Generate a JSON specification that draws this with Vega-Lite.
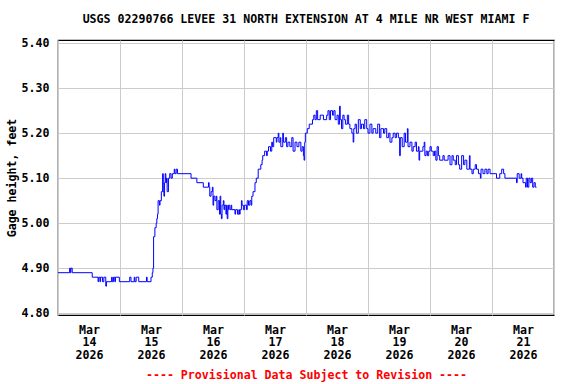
{
"$schema": "https://vega.github.io/schema/vega-lite/v6.json",
"width": 496, "height": 275,
"autosize": "none",
"padding": {"left": 58, "top": 40, "right": 22, "bottom": 69},
"background": "white",
"config": {"view": {"stroke": "#000000", "strokeWidth": 1.2}, "font": "DejaVu Sans Mono"},
"title": {"text": "USGS 02290766 LEVEE 31 NORTH EXTENSION AT 4 MILE NR WEST MIAMI F", "font": "DejaVu Sans Mono", "fontSize": 11.6, "fontWeight": "bold", "color": "#000000", "offset": 12, "anchor": "middle"},
"data": {"values": [
{"t":"2026-03-14T00:00","v":4.89},{"t":"2026-03-14T04:30","v":4.90},{"t":"2026-03-14T04:45","v":4.89},{"t":"2026-03-14T05:00","v":4.90},{"t":"2026-03-14T05:30","v":4.89},{"t":"2026-03-14T13:15","v":4.88},{"t":"2026-03-14T15:30","v":4.87},{"t":"2026-03-14T15:45","v":4.88},{"t":"2026-03-14T16:15","v":4.87},{"t":"2026-03-14T16:30","v":4.88},{"t":"2026-03-14T17:15","v":4.87},{"t":"2026-03-14T17:45","v":4.88},{"t":"2026-03-14T18:30","v":4.86},{"t":"2026-03-14T18:45","v":4.87},{"t":"2026-03-14T20:45","v":4.88},{"t":"2026-03-14T21:00","v":4.87},{"t":"2026-03-14T21:30","v":4.88},{"t":"2026-03-14T22:00","v":4.87},{"t":"2026-03-14T22:15","v":4.88},{"t":"2026-03-14T23:45","v":4.87},
{"t":"2026-03-15T03:45","v":4.88},{"t":"2026-03-15T04:15","v":4.87},{"t":"2026-03-15T05:30","v":4.88},{"t":"2026-03-15T05:45","v":4.87},{"t":"2026-03-15T06:15","v":4.88},{"t":"2026-03-15T07:15","v":4.87},{"t":"2026-03-15T10:15","v":4.88},{"t":"2026-03-15T10:30","v":4.87},{"t":"2026-03-15T12:00","v":4.88},{"t":"2026-03-15T12:30","v":4.89},{"t":"2026-03-15T12:45","v":4.90},{"t":"2026-03-15T13:00","v":4.97},{"t":"2026-03-15T13:30","v":4.99},{"t":"2026-03-15T14:00","v":5.00},{"t":"2026-03-15T14:15","v":5.01},{"t":"2026-03-15T14:30","v":5.02},{"t":"2026-03-15T14:45","v":5.05},{"t":"2026-03-15T15:15","v":5.04},{"t":"2026-03-15T15:30","v":5.05},{"t":"2026-03-15T16:00","v":5.07},{"t":"2026-03-15T16:30","v":5.11},{"t":"2026-03-15T16:45","v":5.07},{"t":"2026-03-15T17:00","v":5.06},{"t":"2026-03-15T17:15","v":5.09},{"t":"2026-03-15T17:30","v":5.11},{"t":"2026-03-15T17:45","v":5.09},{"t":"2026-03-15T18:00","v":5.10},{"t":"2026-03-15T18:15","v":5.07},{"t":"2026-03-15T18:45","v":5.10},{"t":"2026-03-15T19:15","v":5.11},{"t":"2026-03-15T19:45","v":5.10},{"t":"2026-03-15T20:15","v":5.11},{"t":"2026-03-15T21:00","v":5.12},{"t":"2026-03-15T21:15","v":5.11},{"t":"2026-03-15T21:45","v":5.12},{"t":"2026-03-15T22:15","v":5.11},
{"t":"2026-03-16T03:30","v":5.10},{"t":"2026-03-16T05:45","v":5.09},{"t":"2026-03-16T08:15","v":5.08},{"t":"2026-03-16T10:15","v":5.09},{"t":"2026-03-16T10:30","v":5.08},{"t":"2026-03-16T10:45","v":5.06},{"t":"2026-03-16T11:15","v":5.07},{"t":"2026-03-16T11:45","v":5.08},{"t":"2026-03-16T12:00","v":5.04},{"t":"2026-03-16T12:15","v":5.06},{"t":"2026-03-16T12:45","v":5.05},{"t":"2026-03-16T13:15","v":5.06},{"t":"2026-03-16T13:30","v":5.03},{"t":"2026-03-16T14:00","v":5.05},{"t":"2026-03-16T14:30","v":5.02},{"t":"2026-03-16T14:45","v":5.06},{"t":"2026-03-16T15:00","v":5.02},{"t":"2026-03-16T15:15","v":5.01},{"t":"2026-03-16T15:30","v":5.04},{"t":"2026-03-16T16:00","v":5.05},{"t":"2026-03-16T16:15","v":5.03},{"t":"2026-03-16T16:30","v":5.04},{"t":"2026-03-16T17:00","v":5.02},{"t":"2026-03-16T17:15","v":5.04},{"t":"2026-03-16T17:30","v":5.01},{"t":"2026-03-16T17:45","v":5.03},{"t":"2026-03-16T18:00","v":5.04},{"t":"2026-03-16T18:30","v":5.03},{"t":"2026-03-16T19:00","v":5.04},{"t":"2026-03-16T19:15","v":5.03},{"t":"2026-03-16T20:30","v":5.02},{"t":"2026-03-16T20:45","v":5.03},{"t":"2026-03-16T21:30","v":5.02},{"t":"2026-03-16T22:00","v":5.03},{"t":"2026-03-16T22:15","v":5.02},{"t":"2026-03-16T22:30","v":5.03},{"t":"2026-03-16T23:00","v":5.05},{"t":"2026-03-16T23:15","v":5.04},{"t":"2026-03-16T23:45","v":5.03},
{"t":"2026-03-17T00:15","v":5.04},{"t":"2026-03-17T01:00","v":5.03},{"t":"2026-03-17T01:15","v":5.05},{"t":"2026-03-17T01:45","v":5.04},{"t":"2026-03-17T02:15","v":5.05},{"t":"2026-03-17T02:45","v":5.04},{"t":"2026-03-17T03:00","v":5.06},{"t":"2026-03-17T03:30","v":5.07},{"t":"2026-03-17T04:15","v":5.09},{"t":"2026-03-17T04:45","v":5.10},{"t":"2026-03-17T05:30","v":5.12},{"t":"2026-03-17T06:30","v":5.13},{"t":"2026-03-17T07:00","v":5.14},{"t":"2026-03-17T07:15","v":5.15},{"t":"2026-03-17T08:00","v":5.16},{"t":"2026-03-17T08:45","v":5.15},{"t":"2026-03-17T09:00","v":5.16},{"t":"2026-03-17T09:30","v":5.17},{"t":"2026-03-17T10:15","v":5.16},{"t":"2026-03-17T10:45","v":5.18},{"t":"2026-03-17T11:00","v":5.17},{"t":"2026-03-17T11:30","v":5.19},{"t":"2026-03-17T12:30","v":5.18},{"t":"2026-03-17T12:45","v":5.19},{"t":"2026-03-17T13:15","v":5.20},{"t":"2026-03-17T13:30","v":5.18},{"t":"2026-03-17T14:00","v":5.19},{"t":"2026-03-17T14:15","v":5.17},{"t":"2026-03-17T15:00","v":5.20},{"t":"2026-03-17T15:15","v":5.18},{"t":"2026-03-17T16:00","v":5.19},{"t":"2026-03-17T16:30","v":5.17},{"t":"2026-03-17T17:00","v":5.18},{"t":"2026-03-17T17:45","v":5.17},{"t":"2026-03-17T18:30","v":5.19},{"t":"2026-03-17T19:00","v":5.16},{"t":"2026-03-17T19:45","v":5.18},{"t":"2026-03-17T20:30","v":5.17},{"t":"2026-03-17T21:15","v":5.18},{"t":"2026-03-17T22:00","v":5.16},{"t":"2026-03-17T22:30","v":5.17},{"t":"2026-03-17T23:00","v":5.15},{"t":"2026-03-17T23:15","v":5.14},{"t":"2026-03-17T23:30","v":5.18},{"t":"2026-03-17T23:45","v":5.20},
{"t":"2026-03-18T00:30","v":5.21},{"t":"2026-03-18T01:15","v":5.22},{"t":"2026-03-18T02:30","v":5.23},{"t":"2026-03-18T03:00","v":5.24},{"t":"2026-03-18T03:30","v":5.23},{"t":"2026-03-18T04:00","v":5.25},{"t":"2026-03-18T04:30","v":5.23},{"t":"2026-03-18T05:30","v":5.24},{"t":"2026-03-18T06:45","v":5.23},{"t":"2026-03-18T08:00","v":5.24},{"t":"2026-03-18T08:30","v":5.25},{"t":"2026-03-18T09:00","v":5.23},{"t":"2026-03-18T09:30","v":5.25},{"t":"2026-03-18T10:15","v":5.24},{"t":"2026-03-18T10:45","v":5.25},{"t":"2026-03-18T11:15","v":5.23},{"t":"2026-03-18T12:00","v":5.24},{"t":"2026-03-18T12:30","v":5.22},{"t":"2026-03-18T13:00","v":5.26},{"t":"2026-03-18T13:15","v":5.23},{"t":"2026-03-18T13:45","v":5.21},{"t":"2026-03-18T14:15","v":5.24},{"t":"2026-03-18T14:45","v":5.23},{"t":"2026-03-18T15:15","v":5.22},{"t":"2026-03-18T16:00","v":5.24},{"t":"2026-03-18T16:30","v":5.22},{"t":"2026-03-18T17:00","v":5.21},{"t":"2026-03-18T17:45","v":5.20},{"t":"2026-03-18T18:15","v":5.18},{"t":"2026-03-18T18:30","v":5.21},{"t":"2026-03-18T19:00","v":5.22},{"t":"2026-03-18T19:30","v":5.20},{"t":"2026-03-18T20:15","v":5.23},{"t":"2026-03-18T21:00","v":5.21},{"t":"2026-03-18T21:30","v":5.22},{"t":"2026-03-18T22:15","v":5.21},{"t":"2026-03-18T22:45","v":5.23},{"t":"2026-03-18T23:30","v":5.21},
{"t":"2026-03-19T00:00","v":5.20},{"t":"2026-03-19T00:45","v":5.22},{"t":"2026-03-19T01:30","v":5.20},{"t":"2026-03-19T02:00","v":5.21},{"t":"2026-03-19T03:00","v":5.20},{"t":"2026-03-19T03:45","v":5.22},{"t":"2026-03-19T04:30","v":5.19},{"t":"2026-03-19T05:00","v":5.21},{"t":"2026-03-19T06:00","v":5.20},{"t":"2026-03-19T06:30","v":5.21},{"t":"2026-03-19T07:15","v":5.19},{"t":"2026-03-19T08:00","v":5.20},{"t":"2026-03-19T08:30","v":5.18},{"t":"2026-03-19T09:15","v":5.19},{"t":"2026-03-19T09:45","v":5.20},{"t":"2026-03-19T10:30","v":5.19},{"t":"2026-03-19T11:00","v":5.20},{"t":"2026-03-19T11:45","v":5.19},{"t":"2026-03-19T12:15","v":5.15},{"t":"2026-03-19T12:30","v":5.19},{"t":"2026-03-19T13:15","v":5.17},{"t":"2026-03-19T14:00","v":5.20},{"t":"2026-03-19T14:30","v":5.18},{"t":"2026-03-19T15:15","v":5.21},{"t":"2026-03-19T15:30","v":5.17},{"t":"2026-03-19T16:15","v":5.18},{"t":"2026-03-19T17:00","v":5.16},{"t":"2026-03-19T17:30","v":5.17},{"t":"2026-03-19T18:15","v":5.18},{"t":"2026-03-19T18:45","v":5.16},{"t":"2026-03-19T19:30","v":5.17},{"t":"2026-03-19T19:45","v":5.14},{"t":"2026-03-19T20:00","v":5.16},{"t":"2026-03-19T21:15","v":5.17},{"t":"2026-03-19T21:45","v":5.18},{"t":"2026-03-19T22:00","v":5.15},{"t":"2026-03-19T22:30","v":5.16},{"t":"2026-03-19T23:00","v":5.15},{"t":"2026-03-19T23:30","v":5.16},
{"t":"2026-03-20T00:00","v":5.17},{"t":"2026-03-20T00:30","v":5.16},{"t":"2026-03-20T01:15","v":5.15},{"t":"2026-03-20T01:45","v":5.16},{"t":"2026-03-20T02:15","v":5.14},{"t":"2026-03-20T02:45","v":5.17},{"t":"2026-03-20T03:15","v":5.15},{"t":"2026-03-20T03:45","v":5.14},{"t":"2026-03-20T05:00","v":5.15},{"t":"2026-03-20T05:30","v":5.14},{"t":"2026-03-20T07:00","v":5.15},{"t":"2026-03-20T07:45","v":5.13},{"t":"2026-03-20T08:30","v":5.15},{"t":"2026-03-20T09:00","v":5.14},{"t":"2026-03-20T09:45","v":5.13},{"t":"2026-03-20T10:15","v":5.15},{"t":"2026-03-20T11:00","v":5.13},{"t":"2026-03-20T11:30","v":5.12},{"t":"2026-03-20T12:15","v":5.15},{"t":"2026-03-20T13:00","v":5.13},{"t":"2026-03-20T13:30","v":5.14},{"t":"2026-03-20T14:15","v":5.12},{"t":"2026-03-20T15:15","v":5.15},{"t":"2026-03-20T15:30","v":5.12},{"t":"2026-03-20T16:15","v":5.11},{"t":"2026-03-20T16:45","v":5.12},{"t":"2026-03-20T17:30","v":5.13},{"t":"2026-03-20T18:00","v":5.12},{"t":"2026-03-20T18:45","v":5.11},{"t":"2026-03-20T19:30","v":5.10},{"t":"2026-03-20T19:45","v":5.12},{"t":"2026-03-20T20:30","v":5.11},{"t":"2026-03-20T21:15","v":5.12},{"t":"2026-03-20T22:00","v":5.11},{"t":"2026-03-20T22:30","v":5.12},{"t":"2026-03-20T23:15","v":5.11},
{"t":"2026-03-21T01:45","v":5.10},{"t":"2026-03-21T03:00","v":5.11},{"t":"2026-03-21T03:45","v":5.12},{"t":"2026-03-21T04:30","v":5.11},{"t":"2026-03-21T05:00","v":5.10},{"t":"2026-03-21T09:30","v":5.09},{"t":"2026-03-21T09:45","v":5.11},{"t":"2026-03-21T10:30","v":5.10},{"t":"2026-03-21T11:15","v":5.11},{"t":"2026-03-21T11:30","v":5.10},{"t":"2026-03-21T12:00","v":5.09},{"t":"2026-03-21T13:00","v":5.08},{"t":"2026-03-21T13:15","v":5.10},{"t":"2026-03-21T13:45","v":5.08},{"t":"2026-03-21T14:15","v":5.10},{"t":"2026-03-21T14:45","v":5.09},{"t":"2026-03-21T15:15","v":5.10},{"t":"2026-03-21T15:45","v":5.08},{"t":"2026-03-21T16:15","v":5.09},{"t":"2026-03-21T16:45","v":5.08},{"t":"2026-03-21T17:15","v":5.08}
]},
"mark": {"type": "line", "interpolate": "step-after", "color": "#0000ff", "strokeWidth": 1},
"encoding": {
 "x": {"field": "t", "type": "temporal",
  "scale": {"domain": [{"year":2026,"month":3,"date":14},{"year":2026,"month":3,"date":22}]},
  "axis": {"values": [{"year":2026,"month":3,"date":14},{"year":2026,"month":3,"date":15},{"year":2026,"month":3,"date":16},{"year":2026,"month":3,"date":17},{"year":2026,"month":3,"date":18},{"year":2026,"month":3,"date":19},{"year":2026,"month":3,"date":20},{"year":2026,"month":3,"date":21},{"year":2026,"month":3,"date":22}],
   "labelExpr": "month(datum.value) == 2 && date(datum.value) == 22 ? '' : [timeFormat(datum.value, '%b'), timeFormat(datum.value, '%d'), timeFormat(datum.value, '%Y')]",
   "labelOffset": 31, "labelFont": "DejaVu Sans Mono", "labelFontSize": 11.6, "labelFontWeight": "bold", "labelColor": "#000000", "labelLineHeight": 12.8, "labelPadding": 9, "labelFlush": false, "labelOverlap": false, "labelBound": false,
   "ticks": false, "domain": false, "grid": true, "gridColor": "#cccccc", "gridOpacity": 1, "gridWidth": 1,
   "title": "---- Provisional Data Subject to Revision ----", "titleColor": "#ff0000", "titleFont": "DejaVu Sans Mono", "titleFontSize": 11.6, "titleFontWeight": "bold", "titlePadding": 8}},
 "y": {"field": "v", "type": "quantitative",
  "scale": {"domain": [4.796, 5.407], "nice": false, "zero": false},
  "axis": {"values": [4.8, 4.9, 5.0, 5.1, 5.2, 5.3, 5.4], "format": ".2f",
   "labelFont": "DejaVu Sans Mono", "labelFontSize": 11.6, "labelFontWeight": "bold", "labelColor": "#000000", "labelPadding": 9,
   "ticks": false, "domain": false, "grid": true, "gridColor": "#cccccc", "gridOpacity": 1, "gridWidth": 1,
   "title": "Gage height, feet", "titleFont": "DejaVu Sans Mono", "titleFontSize": 11.6, "titleFontWeight": "bold", "titleColor": "#000000", "titlePadding": 4}}
}
}
